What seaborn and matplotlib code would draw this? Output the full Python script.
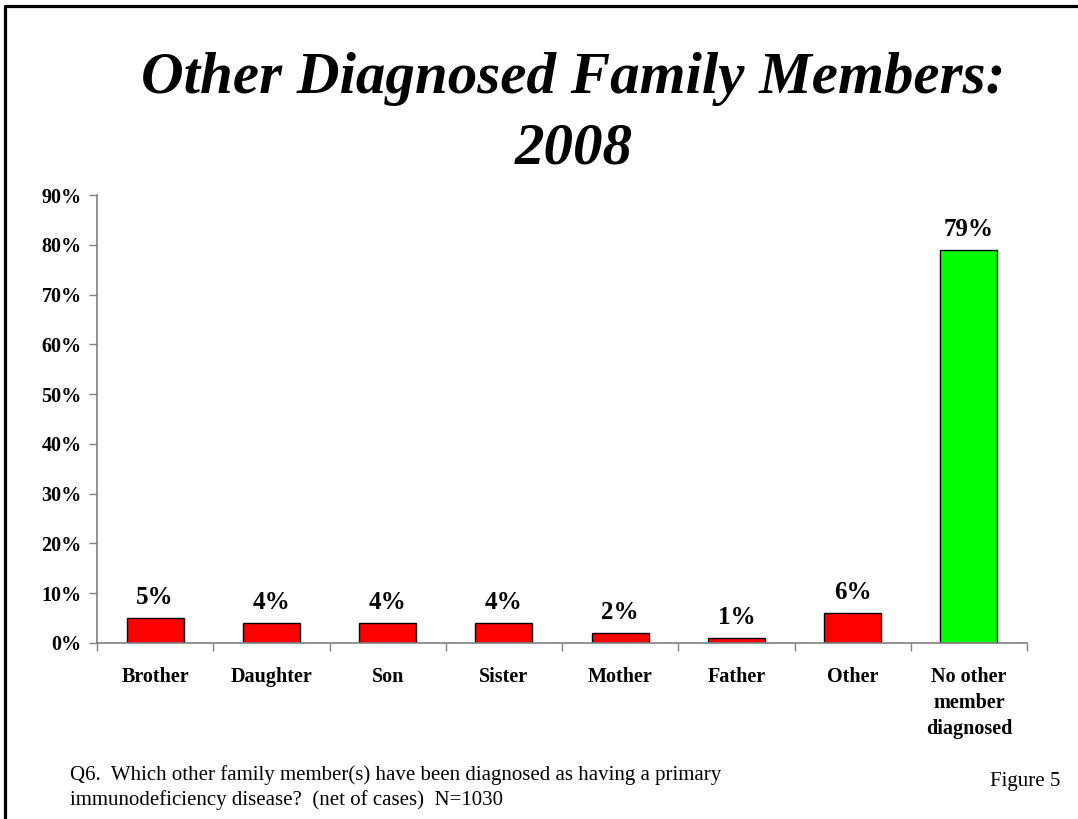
import matplotlib
matplotlib.use("Agg")
import matplotlib.pyplot as plt
from matplotlib.lines import Line2D
import seaborn as sns
import pandas as pd

# Survey results: other family members diagnosed (percent of respondents)
categories = ["Brother", "Daughter", "Son", "Sister", "Mother", "Father", "Other",
              "No other\nmember\ndiagnosed"]
percent = [5, 4, 4, 4, 2, 1, 6, 79]
bar_colors = ["#FF0000"] * 7 + ["#00FF00"]
y_ticks = [0, 10, 20, 30, 40, 50, 60, 70, 80, 90]
y_tick_labels = [f"{v}%" for v in y_ticks]

title_lines = ["Other Diagnosed Family Members:", "2008"]
footnote = ("Q6.  Which other family member(s) have been diagnosed as having a primary\n"
            "immunodeficiency disease?  (net of cases)  N=1030")
figure_label = "Figure 5"

SERIF = ["Liberation Serif", "DejaVu Serif"]

sns.set_theme(style="white")
plt.rcParams["font.family"] = SERIF
plt.rcParams["text.color"] = "black"
plt.rcParams["xtick.color"] = "black"
plt.rcParams["ytick.color"] = "black"
plt.rcParams["xtick.labelcolor"] = "black"
plt.rcParams["ytick.labelcolor"] = "black"

df = pd.DataFrame({"member": categories, "pct": percent})

fig = plt.figure(figsize=(10.78, 8.19), dpi=100)
ax = fig.add_axes([0.090, 0.2149, 0.8627, 0.5470])

sns.barplot(data=df, x="member", y="pct", hue="member", palette=bar_colors,
            legend=False, width=0.49, edgecolor="black", linewidth=1.0,
            saturation=1, ax=ax)

ax.set_ylim(0, 90)
ax.set_xlim(-0.5, len(categories) - 0.5)
ax.set_yticks(y_ticks)
ax.set_yticklabels(y_tick_labels, fontsize=14.5, fontweight="bold", family=SERIF)
ax.set_xlabel("")
ax.set_ylabel("")

# Category labels centered under bars, tick marks between categories
ax.set_xticks(range(len(categories)))
ax.set_xticklabels(categories, fontsize=14.5, fontweight="bold", family=SERIF,
                   linespacing=1.42)
ax.tick_params(axis="x", which="major", length=0, pad=17)
ax.set_xticks([i - 0.5 for i in range(len(categories) + 1)], minor=True)
ax.tick_params(axis="x", which="minor", length=6, width=1, color="#808080",
               direction="out", bottom=True)
ax.tick_params(axis="y", length=6, width=1, color="#808080", direction="out",
               left=True, pad=5)

for side in ["top", "right"]:
    ax.spines[side].set_visible(False)
for side in ["left", "bottom"]:
    ax.spines[side].set_color("#808080")
    ax.spines[side].set_linewidth(1.2)

for container in ax.containers:
    ax.bar_label(container, labels=[f"{v:g}%" for v in container.datavalues],
                 padding=6.5, fontsize=18, fontweight="bold", family=SERIF,
                 color="black")

# Two-line slide title
title_baselines = [93, 163]
for line, base in zip(title_lines, title_baselines):
    fig.text(0.532, 1 - base / 819, line, ha="center", va="baseline",
             fontsize=42.5, fontweight="bold", fontstyle="italic", family=SERIF)

fig.text(0.065, 1 - 765 / 819, footnote, ha="left", va="top", fontsize=15,
         linespacing=1.35, family=SERIF)
fig.text(0.9833, 1 - 786 / 819, figure_label, ha="right", va="baseline",
         fontsize=15, family=SERIF)

# Slide frame along the left and top edges
fig.add_artist(Line2D([0.0046, 0.0046, 0.999], [0.0, 0.9927, 0.9927],
                      transform=fig.transFigure, color="black", linewidth=2.3))

fig.savefig("out.png", dpi=100, facecolor="white")
